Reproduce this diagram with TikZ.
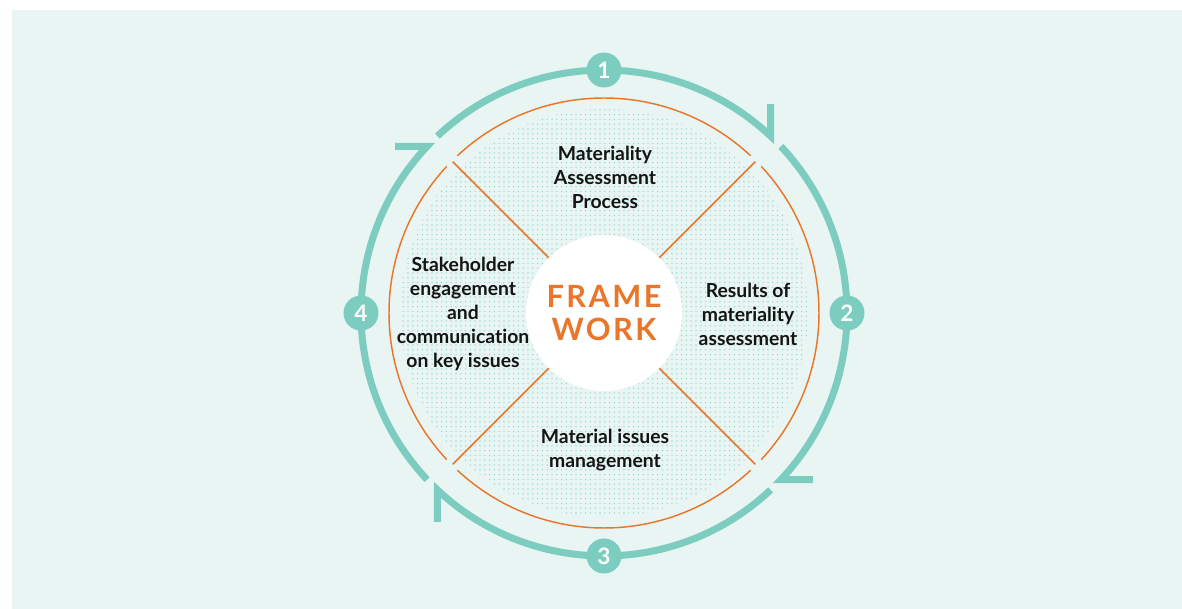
\documentclass[tikz,border=0pt]{standalone}
\usepackage{fontspec}
\setmainfont{Lato}[Ligatures=NoCommon]
\usetikzlibrary{patterns.meta}
\definecolor{mintBack}{RGB}{233,245,242}
\definecolor{cycleTeal}{RGB}{124,204,191}
\definecolor{frameOrange}{RGB}{234,118,44}
\definecolor{textBlack}{RGB}{20,20,20}
\tikzdeclarepattern{
	name=tealDots,
	type=uncolored,
	bounding box={(-1pt,-1pt) and (1pt,1pt)},
	tile size={(3.6pt,3.6pt)},
	code={\fill (0pt,0pt) circle (0.6pt);}
}

\begin{document}
\begin{tikzpicture}[x=0.75pt, y=0.75pt,
	cycleArc/.style={draw=cycleTeal, line width=5.25pt, line join=miter},
	stepDot/.style={circle, fill=cycleTeal, minimum size=26.25pt, inner sep=0pt, text=white, font=\bfseries\fontsize{17}{17}\selectfont},
	sectorText/.style={align=center, text=textBlack, font=\bfseries\fontsize{14.5}{18}\selectfont},
	splitLine/.style={draw=frameOrange, line width=1.1pt}]
\useasboundingbox (-604,-296) rectangle (578,313);
\fill[mintBack] (-592,-296) rectangle (578,303);

	% dotted disc and centre
	\fill[pattern=tealDots, pattern color=cycleTeal!75] (0,0) circle (204);
	\node[circle, fill=white, minimum size=117pt, inner sep=0pt, align=center, text=frameOrange, font=\bfseries\fontsize{23}{24.75}\selectfont\addfontfeatures{LetterSpace=8}](frameHub) at (0,0){FRAME\\WORK};

	% orange ring with gaps on the diagonals
	\foreach \a in {0,90,180,270}
		\draw[splitLine] (\a-43:215) arc[start angle=\a-43, end angle=\a+43, radius=215];
	\foreach \a in {45,135,225,315}
		\draw[splitLine] (frameHub.\a) -- (\a:214);

	% sector texts
	\node[sectorText](assessText) at (1,136){Materiality\\Assessment\\Process};
	\node[sectorText](resultsText) at (144,-1){Results of\\materiality\\assessment};
	\node[sectorText](issuesText) at (1,-137){Material issues\\management};
	\node[sectorText](stakeText) at (-141,-1){Stakeholder\\engagement\\and\\communication\\on key issues};

	% cycle arcs with one-sided barbs
	\draw[cycleArc] (133.3:243) arc[start angle=133.3, end angle=46.7, radius=243] -- ++(90:32);
	\draw[cycleArc] (43.3:243) arc[start angle=43.3, end angle=-43.3, radius=243] -- ++(0:32);
	\draw[cycleArc] (-46.7:243) arc[start angle=-46.7, end angle=-133.3, radius=243] -- ++(-90:32);
	\draw[cycleArc] (223.3:243) arc[start angle=223.3, end angle=136.7, radius=243] -- ++(180:32);

	\node[stepDot](stepOne) at (90:243){1};
	\node[stepDot](stepTwo) at (0:243){2};
	\node[stepDot](stepThree) at (-90:243){3};
	\node[stepDot](stepFour) at (180:243){4};
\end{tikzpicture}
\end{document}
